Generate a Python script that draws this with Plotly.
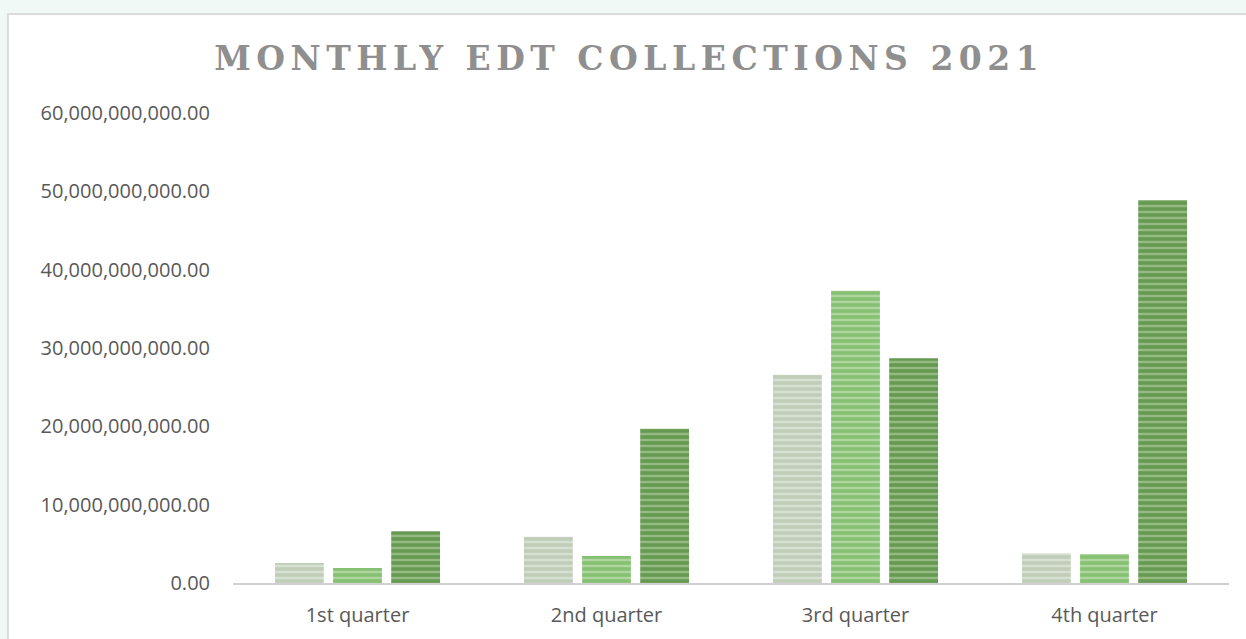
import plotly.graph_objects as go

quarters = ["1st quarter", "2nd quarter", "3rd quarter", "4th quarter"]
series_a = [2.55e9, 5.9e9, 26.6e9, 3.8e9]
series_b = [1.9e9, 3.45e9, 37.3e9, 3.7e9]
series_c = [6.6e9, 19.7e9, 28.7e9, 48.9e9]
y_ticks = [0, 10e9, 20e9, 30e9, 40e9, 50e9, 60e9]

styles = [
    ("#bfcdb9", "#f0f5ec"),
    ("#86c072", "#d6ecca"),
    ("#669952", "#c2dfb1"),
]

fig = go.Figure()
for values, (base, stripe) in zip([series_a, series_b, series_c], styles):
    fig.add_trace(go.Bar(
        x=quarters, y=values,
        marker=dict(color=base, line=dict(width=0),
                    pattern=dict(shape="-", fgcolor=stripe, bgcolor=base,
                                 size=6, solidity=0.4, fillmode="overlay")),
        showlegend=False,
    ))

fig.update_layout(
    width=1246, height=639,
    margin=dict(l=233, r=17, t=113, b=56),
    paper_bgcolor="#f1f9f6", plot_bgcolor="rgba(0,0,0,0)",
    barmode="group", bargap=0.3, bargroupgap=0.16,
    title=dict(text="<b>MONTHLY EDT COLLECTIONS 2021</b>", x=0.505, xanchor="center",
               y=0.908, yanchor="middle",
               font=dict(family="DejaVu Serif", size=33, color="#8f8f8f")),
    font=dict(family="Open Sans", color="#595959"),
    shapes=[dict(type="rect", xref="paper", yref="paper", x0=-0.226, x1=1.1,
                 y0=-0.2, y1=1.2106, fillcolor="white",
                 line=dict(color="#dcdcdc", width=2), layer="below")],
)
fig.update_yaxes(range=[0, 60e9], tickvals=y_ticks, tickformat=",.2f",
                 showgrid=False, zeroline=False, showline=False,
                 tickfont=dict(size=20, color="#595959"), ticks="", ticklabelstandoff=22)
fig.update_xaxes(showgrid=False, showline=True, linecolor="#d0d0d0", linewidth=2,
                 tickfont=dict(size=20, color="#595959"), ticks="", ticklabelstandoff=13)

fig.write_html("out.html", config={"displayModeBar": False}, post_script=(
    "document.body.style.margin='0';"
    "document.querySelectorAll('.gtitle').forEach(function(e){e.style.letterSpacing='5.5px';});"))
